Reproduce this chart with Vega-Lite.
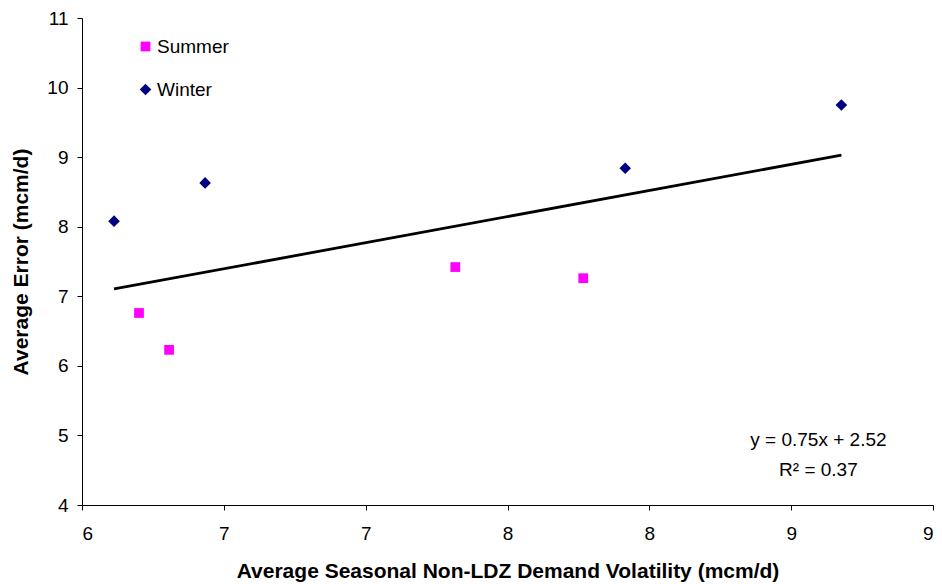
{
  "$schema": "https://vega.github.io/schema/vega-lite/v6.json",
  "width": 851,
  "height": 487,
  "autosize": {"type": "none"},
  "padding": {"left": 82, "top": 18, "right": 9, "bottom": 79},
  "background": "white",
  "config": {
    "view": {"stroke": null},
    "font": "Liberation Sans",
    "axis": {"grid": false, "domainColor": "#000", "tickColor": "#000", "labelColor": "#000", "titleColor": "#000", "labelFont": "Liberation Sans", "titleFont": "Liberation Sans", "labelFontSize": 19, "titleFontSize": 21, "titleFontWeight": "bold", "tickSize": 5, "domainWidth": 1, "tickWidth": 1}
  },
  "datasets": {
    "points": [
      {"season": "Winter", "vol": 6.113, "err": 8.08},
      {"season": "Winter", "vol": 6.434, "err": 8.63},
      {"season": "Winter", "vol": 7.915, "err": 8.84},
      {"season": "Winter", "vol": 8.677, "err": 9.75},
      {"season": "Summer", "vol": 6.201, "err": 6.76},
      {"season": "Summer", "vol": 6.307, "err": 6.23},
      {"season": "Summer", "vol": 7.316, "err": 7.42},
      {"season": "Summer", "vol": 7.767, "err": 7.26}
    ],
    "trend": [
      {"vol": 6.113, "err": 7.105},
      {"vol": 8.677, "err": 9.028}
    ],
    "notes": [
      {"vol": 8.596, "err": 4.934, "label": "y = 0.75x + 2.52"},
      {"vol": 8.596, "err": 4.50, "label": "R² = 0.37"}
    ]
  },
  "layer": [
    {
      "data": {"name": "trend"},
      "mark": {"type": "line", "color": "#000", "strokeWidth": 2.8},
      "encoding": {
        "x": {"field": "vol", "type": "quantitative", "scale": {"domain": [6, 9], "nice": false, "zero": false},
          "axis": {"values": [6, 6.5, 7, 7.5, 8, 8.5, 9], "format": ".0f", "labelPadding": 14, "titlePadding": 17, "title": "Average Seasonal Non-LDZ Demand Volatility (mcm/d)"}},
        "y": {"field": "err", "type": "quantitative", "scale": {"domain": [4, 11], "nice": false, "zero": false},
          "axis": {"values": [4, 5, 6, 7, 8, 9, 10, 11], "format": ".0f", "labelPadding": 9, "titlePadding": 15, "title": "Average Error (mcm/d)"}}
      }
    },
    {
      "data": {"name": "points"},
      "mark": {"type": "point", "filled": true, "opacity": 1},
      "encoding": {
        "x": {"field": "vol", "type": "quantitative"},
        "y": {"field": "err", "type": "quantitative"},
        "color": {"field": "season", "type": "nominal", "scale": {"domain": ["Summer", "Winter"], "range": ["#FF00FF", "#000080"]},
          "legend": {"orient": "none", "legendX": 54, "legendY": 19, "title": null, "labelFontSize": 19, "labelFont": "Liberation Sans", "labelColor": "#000", "rowPadding": 23, "labelOffset": 2, "symbolStrokeWidth": 0, "symbolOpacity": 1}},
        "shape": {"field": "season", "type": "nominal", "scale": {"domain": ["Summer", "Winter"], "range": ["square", "diamond"]}},
        "size": {"field": "season", "type": "nominal", "scale": {"domain": ["Summer", "Winter"], "range": [95, 135]}}
      }
    },
    {
      "data": {"name": "notes"},
      "mark": {"type": "text", "fontSize": 19, "font": "Liberation Sans", "color": "#000", "align": "center", "baseline": "middle"},
      "encoding": {
        "x": {"field": "vol", "type": "quantitative"},
        "y": {"field": "err", "type": "quantitative"},
        "text": {"field": "label"}
      }
    }
  ]
}
